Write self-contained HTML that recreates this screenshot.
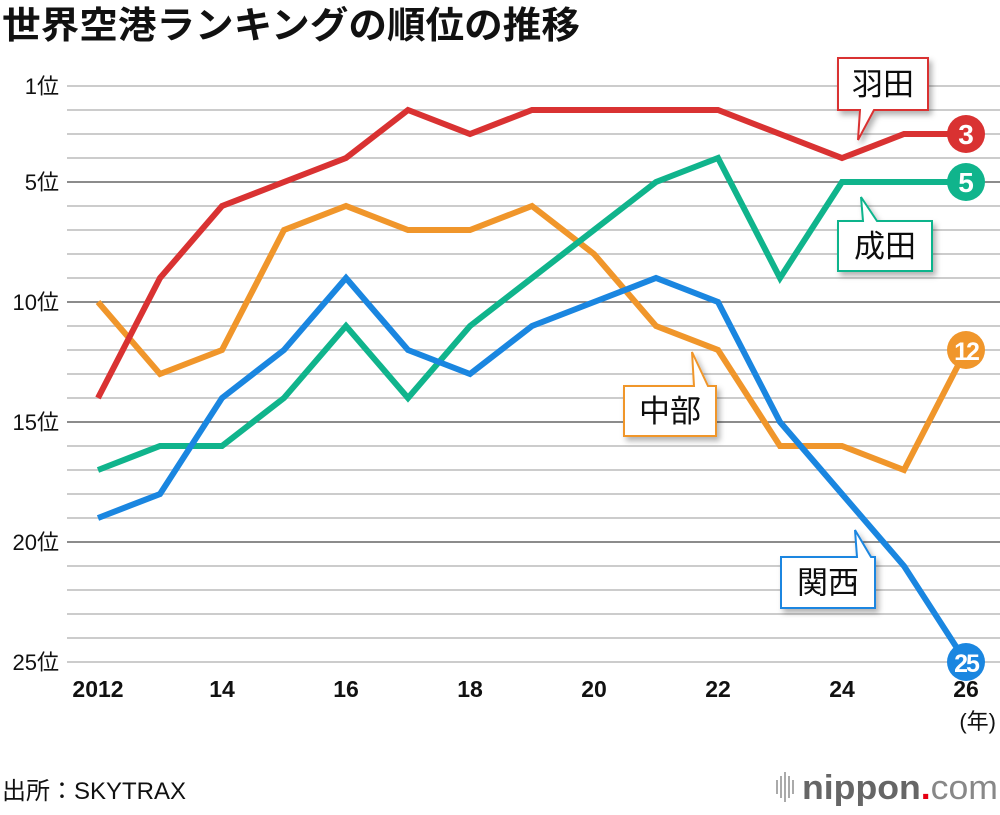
<!DOCTYPE html>
<html><head><meta charset="utf-8"><style>
body{margin:0;background:#fff;width:1000px;height:810px;overflow:hidden;font-family:"Liberation Sans","Noto Sans CJK JP",sans-serif}
</style></head><body>
<svg id="chart" width="1000" height="810" xmlns="http://www.w3.org/2000/svg" font-family="Liberation Sans, Noto Sans CJK JP, sans-serif">
<defs><filter id="sh" x="-20%" y="-20%" width="150%" height="160%"><feDropShadow dx="3" dy="4" stdDeviation="3" flood-color="#000" flood-opacity="0.3"/></filter></defs>
<text x="2" y="38" font-size="37" font-weight="bold" fill="#111" textLength="578" lengthAdjust="spacingAndGlyphs">世界空港ランキングの順位の推移</text>
<g id="grid"></g><g id="yl"></g><g id="xl"></g><g id="lines"></g><g id="callouts"></g><g id="ends"></g>
<text x="996" y="729" font-size="22" text-anchor="end" fill="#111">(年)</text>
<text x="2" y="799" font-size="24" fill="#111">出所：SKYTRAX</text>
<g>
<g fill="#aaa"><rect x="776" y="780" width="2" height="14"/><rect x="780" y="776" width="2" height="22"/><rect x="784" y="772" width="2" height="30"/><rect x="788" y="776" width="2" height="22"/><rect x="792" y="780" width="2" height="14"/></g>
<text x="802" y="799" font-size="34" fill="#666" font-weight="bold" textLength="196" lengthAdjust="spacingAndGlyphs">nippon<tspan fill="#e60012">.</tspan><tspan font-weight="normal" fill="#888">com</tspan></text></g>
</svg>
<script>
const years=[2012,2013,2014,2015,2016,2017,2018,2019,2020,2021,2022,2023,2024,2025,2026];
const haneda=[14,9,6,5,4,2,3,2,2,2,2,3,4,3,3];
const narita=[17,16,16,14,11,14,11,9,7,5,4,9,5,5,5];
const chubu=[10,13,12,7,6,7,7,6,8,11,12,16,16,17,12];
const kansai=[19,18,14,12,9,12,13,11,10,9,10,15,18,21,25];
const xTicks=[2012,2014,2016,2018,2020,2022,2024,2026];
const xTickLabels=["2012","14","16","18","20","22","24","26"];
const yTicks=[1,5,10,15,20,25];
const NS="http://www.w3.org/2000/svg";
const x=y=>98+(y-2012)*62;
const yy=r=>86+(r-1)*24;
function mk(t,a,p){const e=document.createElementNS(NS,t);for(const k in a)e.setAttribute(k,a[k]);p.appendChild(e);return e;}
const grid=document.getElementById('grid');
for(let r=1;r<=25;r++){const major=r%5===0&&r<25;
 const l=mk('line',{x1:67,x2:1000,y1:yy(r),y2:yy(r),stroke:major?'#666':'#ccc','stroke-width':major?1.5:2},grid);
 
 }
const yl=document.getElementById('yl');
yTicks.forEach(r=>{const t=mk('text',{x:59,y:yy(r)+8,'font-size':22,'text-anchor':'end',fill:'#111'},yl);t.textContent=r+'位';
 
 });
const xl=document.getElementById('xl');
xTicks.forEach((v,i)=>{const t=mk('text',{x:x(v),y:697,'font-size':23,'font-weight':'bold','text-anchor':'middle',fill:'#111'},xl);t.textContent=xTickLabels[i];
 
 });
const series=[[chubu,'#f0962b','chubu'],[narita,'#10b48c','narita'],[kansai,'#1a86e0','kansai'],[haneda,'#d93232','haneda']];
const lg=document.getElementById('lines'),eg=document.getElementById('ends');
series.forEach(([d,c,n])=>{
 const p=mk('polyline',{points:d.map((v,i)=>x(years[i])+','+yy(v)).join(' '),fill:'none',stroke:c,'stroke-width':6,'stroke-linejoin':'miter'},lg);
 
 
 const last=d[d.length-1],cx=x(years[years.length-1]),cy=yy(last);
 const g=mk('g',{},eg);
 
 
 mk('circle',{cx:cx,cy:cy,r:19,fill:c},g);
 const t=mk('text',{x:cx,y:cy+10,'font-size':last>9?25:28,'font-weight':'bold','text-anchor':'middle',fill:'#fff','letter-spacing':last>9?-2:0},g);t.textContent=last;
});
const cg=document.getElementById('callouts');
function callout(n,label,c,bx,by,w,h,tip,up){
 const g=mk('g',{filter:'url(#sh)'},cg);
 
 
 let d;
 if(!up){d=`M${bx},${by} h${w} v${h} H${tip[0]+16} L${tip[0]} ${tip[1]} L${tip[0]+2} ${by+h} H${bx} Z`;}
 else{d=`M${bx},${by} H${tip[0]+2} L${tip[0]} ${tip[1]} L${tip[0]+16} ${by} H${bx+w} v${h} H${bx} Z`;}
 mk('path',{d:d,fill:'#fff',stroke:c,'stroke-width':2},g);
 const t=mk('text',{x:bx+w/2,y:by+h/2+11,'font-size':31,'text-anchor':'middle',fill:'#111'},g);t.textContent=label;
}
callout('haneda','羽田','#d93232',838,58,90,52,[858,140],false);
callout('narita','成田','#10b48c',838,221,94,50,[861,197],true);
callout('chubu','中部','#f0962b',624,386,92,50,[692,352],true);
callout('kansai','関西','#1a86e0',781,557,94,51,[855,530],true);
</script>
</body></html>
